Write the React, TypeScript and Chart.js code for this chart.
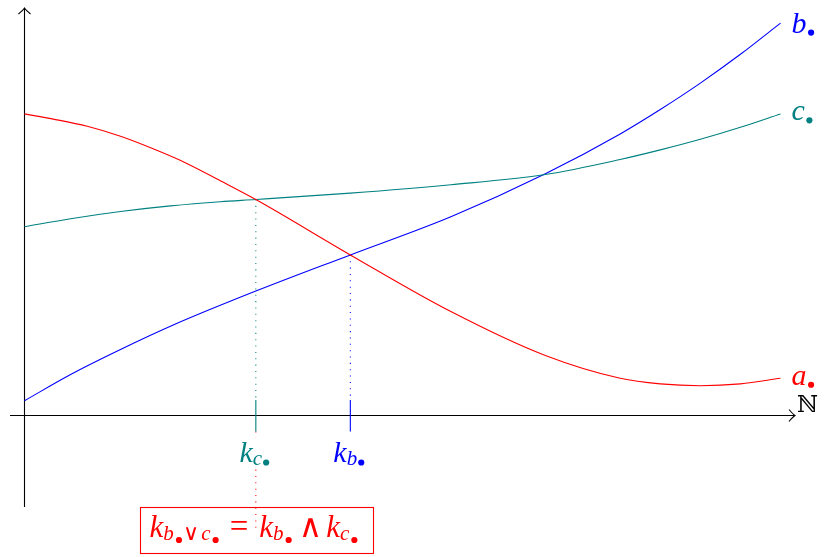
import React, { useEffect, useRef } from "react";
import { Chart, registerables } from "chart.js";

Chart.register(...registerables);

// ---- data (x: position along ℕ axis, y: value) ----
const A_X = [0, 3.8, 8.3, 12.7, 17.1, 21.6, 25.9, 30.6, 43.1, 56.4, 68.9, 78.8, 84.1, 89.4, 94.7, 100];
const A_Y = [75.4, 74.1, 72.3, 69.8, 66.6, 62.9, 58.7, 54.0, 40.15, 26.0, 15.0, 9.3, 7.9, 7.45, 7.9, 9.3];
const C_X = [0, 6.1, 12.7, 19.3, 25.9, 30.6, 43.1, 56.4, 68.9, 78.8, 84.1, 89.4, 94.7, 100];
const C_Y = [47.2, 49.2, 51.0, 52.4, 53.45, 54.0, 55.6, 57.7, 60.25, 64.0, 66.4, 69.05, 72.05, 75.4];
const B_X = [0, 6.1, 12.7, 19.9, 30.6, 43.1, 56.4, 68.9, 78.8, 84.1, 89.4, 94.7, 100];
const B_Y = [3.7, 10.25, 16.5, 22.8, 31.1, 40.15, 49.7, 60.45, 70.4, 76.5, 83.1, 90.3, 98.1];

// crossing points k_c (a meets c) and k_b (a meets b)
const K_C = 30.6;
const K_C_Y = 54.0;
const K_B = 43.1;
const K_B_Y = 40.15;

const SERIES_NAMES = ["a", "c", "b"];
const AXIS_LABEL = "ℕ";

const X_MIN = -1.918;
const X_MAX = 101.92;
const Y_MIN = -22.875;
const Y_MAX = 101.875;

const RED = "rgb(255,0,0)";
const TEAL = "rgb(0,128,128)";
const BLUE = "rgb(0,0,255)";

const FONT = "'Liberation Serif', 'DejaVu Serif', serif";
const OPFONT = "'DejaVu Sans', 'DejaVu Serif', sans-serif";
const M = 30;
const S = 21;
const DOT_R = 3.1;

type Tok =
  | { kind: "t"; t: string; size: number; it?: boolean; op?: boolean; dy?: number; pre?: number; post?: number }
  | { kind: "dot"; dy?: number; pre?: number; post?: number };

function fnt(size: number, it?: boolean, op?: boolean) {
  if (op) return `200 ${size}px ${OPFONT}`;
  return `${it ? "italic " : ""}${size}px ${FONT}`;
}

function measure(ctx: CanvasRenderingContext2D, toks: Tok[]) {
  let w = 0;
  for (const k of toks) {
    w += k.pre || 0;
    if (k.kind === "dot") w += DOT_R * 2;
    else {
      ctx.font = fnt(k.size, k.it, k.op);
      w += ctx.measureText(k.t).width;
    }
    w += k.post || 0;
  }
  return w;
}

function drawToks(ctx: CanvasRenderingContext2D, x: number, base: number, toks: Tok[], color: string) {
  ctx.fillStyle = color;
  ctx.textBaseline = "alphabetic";
  ctx.textAlign = "left";
  let cx = x;
  for (const k of toks) {
    cx += k.pre || 0;
    if (k.kind === "dot") {
      ctx.beginPath();
      ctx.arc(cx + DOT_R, base + (k.dy || 0), DOT_R, 0, Math.PI * 2);
      ctx.fill();
      cx += DOT_R * 2;
    } else {
      ctx.font = fnt(k.size, k.it, k.op);
      ctx.fillText(k.t, cx, base + (k.dy || 0));
      cx += ctx.measureText(k.t).width;
    }
    cx += k.post || 0;
  }
  return cx - x;
}

function arrowHead(ctx: CanvasRenderingContext2D, x: number, y: number, dir: "up" | "right") {
  const L = 6;
  ctx.beginPath();
  if (dir === "up") {
    ctx.moveTo(x - L, y + L);
    ctx.quadraticCurveTo(x - 1.5, y + 2.2, x, y);
    ctx.quadraticCurveTo(x + 1.5, y + 2.2, x + L, y + L);
  } else {
    ctx.moveTo(x - L, y - L);
    ctx.quadraticCurveTo(x - 2.2, y - 1.5, x, y);
    ctx.quadraticCurveTo(x - 2.2, y + 1.5, x - L, y + L);
  }
  ctx.stroke();
}

function dotted(ctx: CanvasRenderingContext2D, x: number, y0: number, y1: number, color: string) {
  ctx.save();
  ctx.strokeStyle = color;
  ctx.lineWidth = 1.05;
  ctx.setLineDash([1.05, 5.3]);
  ctx.beginPath();
  ctx.moveTo(x, y0);
  ctx.lineTo(x, y1);
  ctx.stroke();
  ctx.restore();
}

const overlay = {
  id: "overlay",
  beforeDatasetsDraw(chart: any) {
    const ctx: CanvasRenderingContext2D = chart.ctx;
    const xs = chart.scales.x;
    const ys = chart.scales.y;
    const ox = xs.getPixelForValue(0);
    const oy = ys.getPixelForValue(0);
    const ca = chart.chartArea;
    ctx.save();
    ctx.strokeStyle = "#000";
    ctx.lineWidth = 1.1;
    ctx.beginPath();
    ctx.moveTo(ox, ca.bottom);
    ctx.lineTo(ox, ca.top);
    ctx.moveTo(ca.left, oy);
    ctx.lineTo(ca.right, oy);
    ctx.stroke();
    arrowHead(ctx, ox, ca.top, "up");
    arrowHead(ctx, ca.right, oy, "right");

    const kc = xs.getPixelForValue(K_C);
    const kb = xs.getPixelForValue(K_B);
    dotted(ctx, kc, ys.getPixelForValue(K_C_Y), oy - 15.5, TEAL);
    dotted(ctx, kb, ys.getPixelForValue(K_B_Y), oy - 15.5, BLUE);
    dotted(ctx, kc, oy + 16, oy + 115, RED);
    ctx.lineWidth = 1.1;
    ctx.strokeStyle = TEAL;
    ctx.beginPath();
    ctx.moveTo(kc, oy - 15.5);
    ctx.lineTo(kc, oy + 16);
    ctx.stroke();
    ctx.strokeStyle = BLUE;
    ctx.beginPath();
    ctx.moveTo(kb, oy - 15.5);
    ctx.lineTo(kb, oy + 16);
    ctx.stroke();
    ctx.restore();
  },
  afterDatasetsDraw(chart: any) {
    const ctx: CanvasRenderingContext2D = chart.ctx;
    const xs = chart.scales.x;
    const ys = chart.scales.y;
    const oy = ys.getPixelForValue(0);
    const ca = chart.chartArea;
    ctx.save();

    // end labels
    const ends: [string, string, number][] = [
      [SERIES_NAMES[0], RED, A_Y[A_Y.length - 1]],
      [SERIES_NAMES[1], TEAL, C_Y[C_Y.length - 1]],
      [SERIES_NAMES[2], BLUE, B_Y[B_Y.length - 1]],
    ];
    const endX = xs.getPixelForValue(A_X[A_X.length - 1]);
    for (const [name, col, v] of ends) {
      const py = ys.getPixelForValue(v);
      ctx.font = fnt(M, true);
      const asc = ctx.measureText(name).actualBoundingBoxAscent;
      const base = py + (asc - DOT_R) / 2 + 1;
      drawToks(ctx, endX + 11, base, [
        { kind: "t", t: name, size: M, it: true },
        { kind: "dot", pre: 1.5, dy: 0 },
      ], col);
    }

    // ℕ
    ctx.font = `23px 'DejaVu Serif', serif`;
    ctx.fillStyle = "#000";
    ctx.textBaseline = "alphabetic";
    ctx.fillText(AXIS_LABEL, ca.right + 2, oy - 4);

    // k labels
    const kc = xs.getPixelForValue(K_C);
    const kb = xs.getPixelForValue(K_B);
    const kLabel = (sub: string): Tok[] => [
      { kind: "t", t: "k", size: M, it: true },
      { kind: "t", t: sub, size: S, it: true, dy: 3 },
      { kind: "dot", pre: 1, dy: 1 },
    ];
    const kcT = kLabel(SERIES_NAMES[1]);
    const kbT = kLabel(SERIES_NAMES[2]);
    const kBase = oy + 46;
    const wc = measure(ctx, kcT);
    const wb = measure(ctx, kbT);
    ctx.fillStyle = "#fff";
    ctx.fillRect(kc - 1.5 - wc / 2 - 1, kBase - 24, wc + 2, 31);
    drawToks(ctx, kc - 1.5 - wc / 2, kBase, kcT, TEAL);
    drawToks(ctx, kb - 1.5 - wb / 2, kBase, kbT, BLUE);

    // formula box
    const FM = 31;
    const f: Tok[] = [
      { kind: "t", t: "k", size: FM, it: true },
      { kind: "t", t: SERIES_NAMES[2], size: S, it: true, dy: 3.5 },
      { kind: "dot", pre: 2, dy: 3.5 },
      { kind: "t", t: "∨", size: S + 1, op: true, dy: 3.5, pre: 1, post: 2 },
      { kind: "t", t: SERIES_NAMES[1], size: S, it: true, dy: 3.5 },
      { kind: "dot", pre: 2, dy: 3.5 },
      { kind: "t", t: "=", size: FM + 2, pre: 11, post: 11 },
      { kind: "t", t: "k", size: FM, it: true },
      { kind: "t", t: SERIES_NAMES[2], size: S, it: true, dy: 3.5 },
      { kind: "dot", pre: 2, dy: 3.5 },
      { kind: "t", t: "∧", size: FM + 1, op: true, pre: 7, post: 4 },
      { kind: "t", t: "k", size: FM, it: true },
      { kind: "t", t: SERIES_NAMES[1], size: S, it: true, dy: 3.5 },
      { kind: "dot", pre: 2, dy: 3.5 },
    ];
    const fw = measure(ctx, f);
    const fx = kc - 2.3 - fw / 2;
    const fBase = oy + 121;
    drawToks(ctx, fx, fBase, f, RED);
    ctx.strokeStyle = RED;
    ctx.lineWidth = 1.1;
    const bx0 = Math.round(fx - 10) + 0.5;
    const bx1 = Math.round(fx + fw + 16) + 0.5;
    const by0 = Math.round(oy + 91) + 0.5;
    const by1 = Math.round(oy + 137) + 0.5;
    ctx.strokeRect(bx0, by0, bx1 - bx0, by1 - by0);
    ctx.restore();
  },
};

export default function App() {
  const ref = useRef<HTMLCanvasElement>(null);
  useEffect(() => {
    if (!ref.current) return;
    const mk = (xs: number[], ys: number[]) => xs.map((x, i) => ({ x, y: ys[i] }));
    const chart = new Chart(ref.current, {
      type: "line",
      data: {
        datasets: [
          { label: SERIES_NAMES[0], data: mk(A_X, A_Y), borderColor: RED },
          { label: SERIES_NAMES[1], data: mk(C_X, C_Y), borderColor: TEAL },
          { label: SERIES_NAMES[2], data: mk(B_X, B_Y), borderColor: BLUE },
        ].map((d) => ({
          ...d,
          borderWidth: 1.1,
          pointRadius: 0,
          fill: false,
          cubicInterpolationMode: "monotone" as const,
        })),
      },
      options: {
        responsive: false,
        animation: false,
        devicePixelRatio: 1,
        layout: { padding: { left: 10, right: 31, top: 8, bottom: 50 } },
        plugins: { legend: { display: false }, tooltip: { enabled: false } },
        events: [],
        scales: {
          x: { type: "linear", min: X_MIN, max: X_MAX, display: false },
          y: { type: "linear", min: Y_MIN, max: Y_MAX, display: false },
        },
      },
      plugins: [overlay],
    });
    return () => chart.destroy();
  }, []);
  return (
    <div style={{ position: "fixed", left: 0, top: 0, width: 826, height: 557, background: "#fff" }}>
      <canvas ref={ref} width={826} height={557} style={{ display: "block" }} />
    </div>
  );
}
